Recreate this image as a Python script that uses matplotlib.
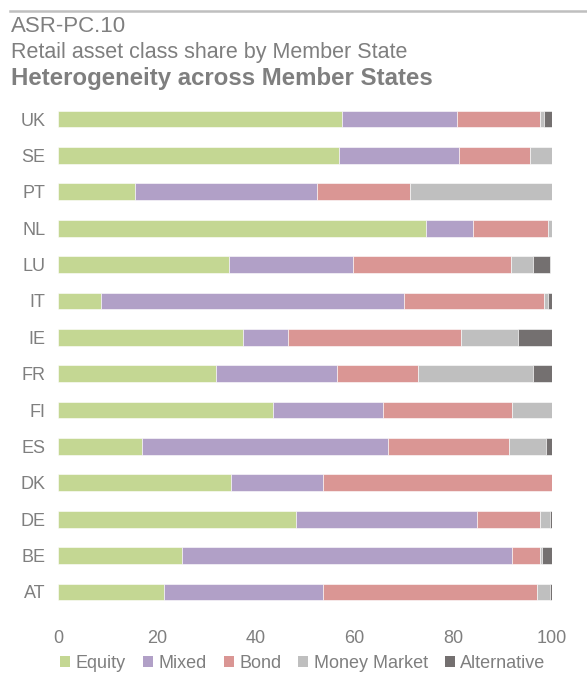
import matplotlib
matplotlib.use("Agg")
import matplotlib.pyplot as plt
from matplotlib.patches import Patch
from matplotlib.lines import Line2D

plt.rcParams["font.family"] = ["Liberation Sans", "DejaVu Sans"]

# ── data (bottom to top, as drawn) ────────────────────────────────────────────
countries = ["AT", "BE", "DE", "DK", "ES", "FI", "FR", "IE", "IT", "LU", "NL", "PT", "SE", "UK"]
series_names = ["Equity", "Mixed", "Bond", "Money Market", "Alternative"]

equity      = [21.4, 25.0, 48.2, 35.0, 17.1, 43.5, 31.9, 37.4,  8.7, 34.6, 74.5, 15.5, 56.9, 57.4]
mixed       = [32.3, 67.0, 36.6, 18.7, 49.8, 22.2, 24.6,  9.2, 61.3, 25.1,  9.5, 37.0, 24.3, 23.4]
bond        = [43.3,  5.5, 12.7, 46.3, 24.3, 26.3, 16.3, 34.9, 28.3, 32.0, 15.1, 18.7, 14.3, 16.7]
money_mkt   = [ 2.6,  0.5,  2.1,  0.0,  7.6,  8.0, 23.3, 11.7,  0.9,  4.4,  0.9, 28.8,  4.5,  0.9]
alternative = [ 0.4,  2.0,  0.4,  0.0,  1.2,  0.0,  3.9,  6.8,  0.8,  3.4,  0.0,  0.0,  0.0,  1.6]

colors = ["#C4D793", "#B1A0C7", "#DA9694", "#BFBFBF", "#747070"]
TEXT = "#7F7F7F"

# ── figure ────────────────────────────────────────────────────────────────────
W, H = 587, 675
fig = plt.figure(figsize=(W / 100, H / 100), dpi=100)

# header: rule + three title lines
fig.add_artist(Line2D([10 / W, 1.0], [1 - 11 / H, 1 - 11 / H], color="#BFBFBF", lw=1.8))
fig.text(11 / W, 1 - 32 / H, "ASR-PC.10", fontsize=16, color=TEXT, va="baseline")
fig.text(11 / W, 1 - 58 / H, "Retail asset class share by Member State",
         fontsize=15.5, color=TEXT, va="baseline")
fig.text(11 / W, 1 - 85 / H, "Heterogeneity across Member States",
         fontsize=17.3, color=TEXT, weight="bold", va="baseline")

# axes: x 0..100 spans px 58..552, rows from y=119 (UK) to y=592 (AT)
row = (592 - 119) / 13
y_lo, y_hi = -0.75, 13.7
top_px = 119 - (y_hi - 13) * row
bot_px = 592 + (0 - y_lo) * row
ax = fig.add_axes([58 / W, 1 - bot_px / H, (552 - 58) / W, (bot_px - top_px) / H])

left = [0.0] * len(countries)
for name, vals, c in zip(series_names, [equity, mixed, bond, money_mkt, alternative], colors):
    ax.barh(range(len(countries)), vals, left=left, height=0.46, color=c,
            edgecolor="white", linewidth=0.4, label=name)
    left = [l + v for l, v in zip(left, vals)]

ax.set_xlim(0, 100)
ax.set_ylim(y_lo, y_hi)
ax.set_xticks([0, 20, 40, 60, 80, 100])
ax.set_yticks(range(len(countries)))
ax.set_yticklabels(countries)
ax.tick_params(length=0, labelsize=13, labelcolor=TEXT)
ax.tick_params(axis="x", pad=8)
ax.tick_params(axis="y", pad=9)
for s in ax.spines.values():
    s.set_visible(False)

handles = [Patch(facecolor=c, edgecolor="none") for c in colors]
fig.legend(handles, series_names, loc="center", bbox_to_anchor=(303 / W, 1 - 663 / H),
           ncol=5, frameon=False, fontsize=13, labelcolor=TEXT,
           handlelength=0.55, handleheight=0.55, handletextpad=0.3, columnspacing=0.95)

fig.savefig("out.png", dpi=100)
